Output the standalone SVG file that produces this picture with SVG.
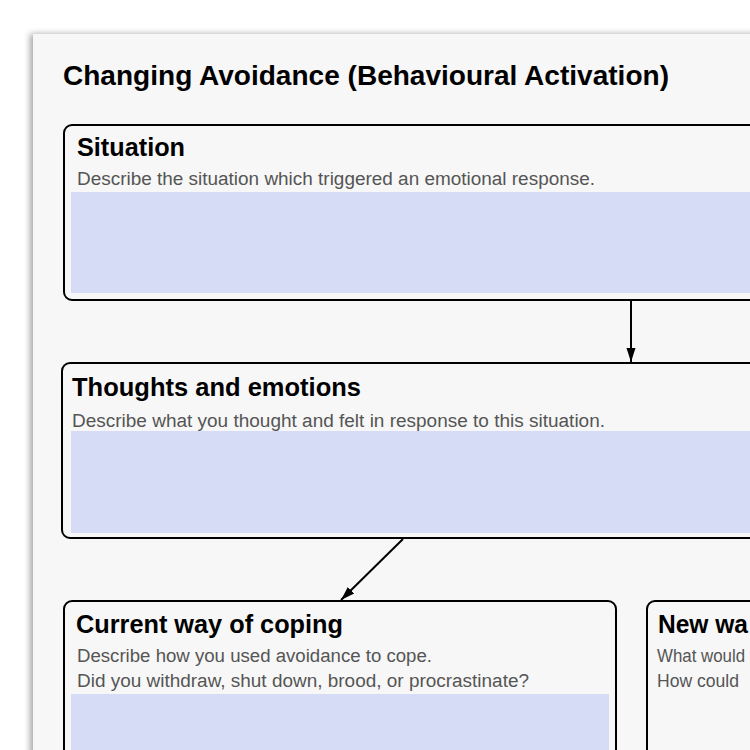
<svg xmlns="http://www.w3.org/2000/svg" width="750" height="750" viewBox="0 0 750 750">
<defs>
<filter id="sh" x="-10%" y="-10%" width="130%" height="130%">
<feDropShadow dx="-3" dy="0" stdDeviation="3" flood-color="#000" flood-opacity="0.35"/>
</filter>
<marker id="ah" markerUnits="userSpaceOnUse" markerWidth="14" markerHeight="14" viewBox="0 0 14 14" refX="14" refY="7" orient="auto">
<path d="M0,2.5 L14,7 L0,11.5 z" fill="#000"/>
</marker>
<style>
.box{fill:none;stroke:#000;stroke-width:2}
.fill{fill:#d6dcf6}
.h{font-family:"Liberation Sans",Arial,sans-serif;font-weight:bold;font-size:26px;fill:#000}
.d{font-family:"Liberation Sans",Arial,sans-serif;font-size:18px;fill:#555}
.t{font-family:"Liberation Sans",Arial,sans-serif;font-weight:bold;font-size:27px;fill:#000}
.c{fill:none;stroke:#000;stroke-width:2}
</style>
</defs>
<rect width="750" height="750" fill="#fff"/>
<rect x="33" y="34" width="800" height="800" fill="#f7f7f7" filter="url(#sh)"/>
<text class="t" x="63" y="85" textLength="606" lengthAdjust="spacingAndGlyphs">Changing Avoidance (Behavioural Activation)</text>

<g id="situation">
<rect class="fill" x="71" y="192" width="700" height="101"/>
<rect class="box" x="64" y="125" width="760" height="175" rx="8"/>
<text class="h" x="77" y="156" textLength="108" lengthAdjust="spacingAndGlyphs">Situation</text>
<text class="d" x="77" y="185" textLength="518" lengthAdjust="spacingAndGlyphs">Describe the situation which triggered an emotional response.</text>
</g>

<g id="thoughts">
<rect class="fill" x="71" y="431" width="700" height="102"/>
<rect class="box" x="62" y="363" width="760" height="175" rx="8"/>
<text class="h" x="72" y="396" textLength="289" lengthAdjust="spacingAndGlyphs">Thoughts and emotions</text>
<text class="d" x="72" y="427" textLength="533" lengthAdjust="spacingAndGlyphs">Describe what you thought and felt in response to this situation.</text>
</g>

<g id="current">
<rect class="fill" x="71" y="694" width="538" height="80"/>
<rect class="box" x="64" y="601" width="552" height="200" rx="8"/>
<text class="h" x="76" y="633" textLength="267" lengthAdjust="spacingAndGlyphs">Current way of coping</text>
<text class="d" x="77" y="662" textLength="355" lengthAdjust="spacingAndGlyphs">Describe how you used avoidance to cope.</text>
<text class="d" x="77" y="687" textLength="452" lengthAdjust="spacingAndGlyphs">Did you withdraw, shut down, brood, or procrastinate?</text>
</g>

<g id="new">
<rect class="box" x="647" y="601" width="300" height="200" rx="8"/>
<text class="h" x="658" y="633" textLength="90" lengthAdjust="spacingAndGlyphs">New wa</text>
<text class="d" x="657" y="662" textLength="88" lengthAdjust="spacingAndGlyphs">What would</text>
<text class="d" x="657" y="687" textLength="82" lengthAdjust="spacingAndGlyphs">How could</text>
</g>

<g id="connectors">
<line class="c" x1="631" y1="301" x2="631" y2="362" marker-end="url(#ah)"/>
<line class="c" x1="403" y1="539" x2="341" y2="600" marker-end="url(#ah)"/>
</g>
</svg>
